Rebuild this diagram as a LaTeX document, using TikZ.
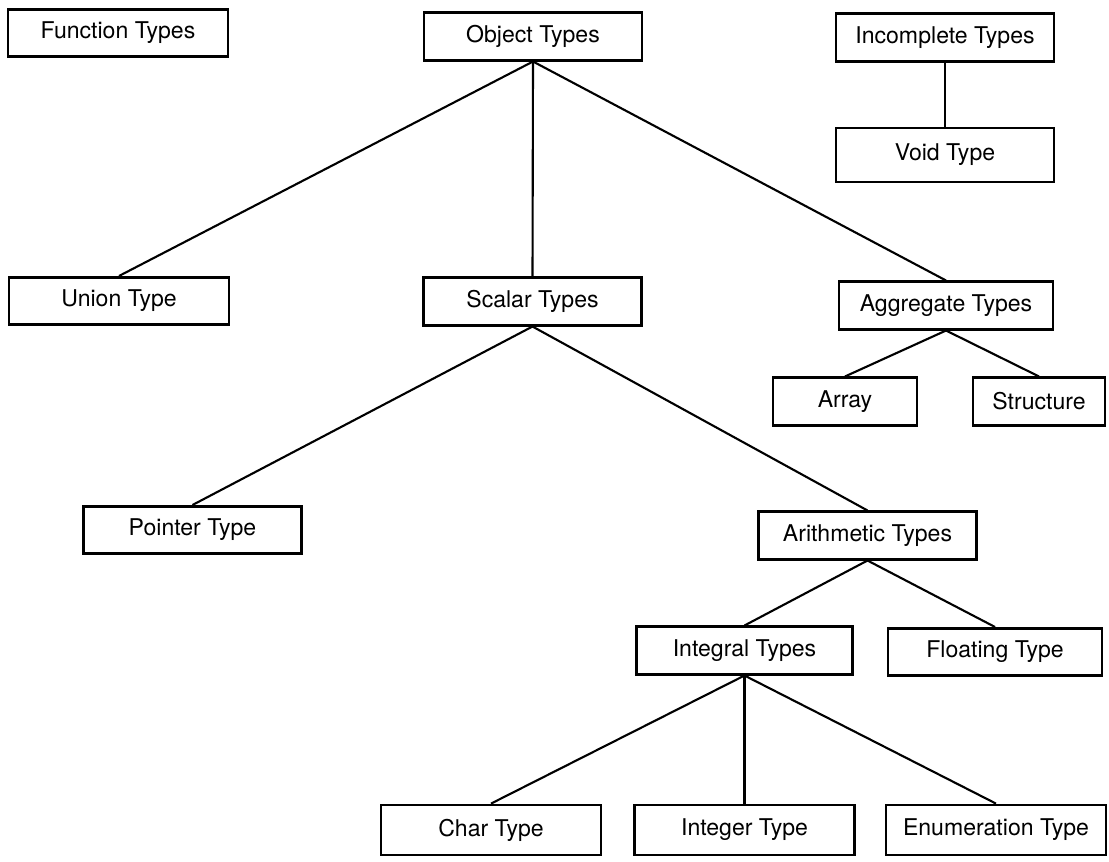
\documentclass[tikz,border=0pt]{standalone}
\usepackage{fontspec}
\setmainfont{TeX Gyre Heros}
\usepackage{tikz}
\usetikzlibrary{positioning}

\tikzset{
    typebox/.style={rectangle, draw, line width=2pt, inner sep=0pt, minimum height=1.18cm, minimum width=5.45cm, font=\fontsize{16.4pt}{19pt}\selectfont},
    branch/.style={line width=1.5pt}
}

\begin{document}
\begin{tikzpicture}[x=0.025cm, y=-0.025cm]
                \useasboundingbox (0, 0) rectangle (1109, 861);

                \node[typebox, minimum width=5.5cm] (func) at (118, 33) {Function Types};
                \node[typebox] (obj) at (533, 36.5) {Object Types};
                \node[typebox] (incomp) at (945, 37.5) {Incomplete Types};
                \node[typebox, minimum height=1.35cm] (void) at (945, 155) {Void Type};

                \node[typebox, minimum width=5.5cm] (union) at (119, 301) {Union Type};
                \node[typebox] (scalar) at (532.5, 301.5) {Scalar Types};
                \node[typebox, minimum width=5.35cm] (aggr) at (946, 305.5) {Aggregate Types};
                \node[typebox, minimum width=3.6cm] (array) at (845, 401.5) {Array};
                \node[typebox, minimum width=3.3cm] (struct) at (1039, 401.5) {Structure};

                \node[typebox] (pointer) at (192.5, 530) {Pointer Type};
                \node[typebox] (arith) at (867.5, 535.5) {Arithmetic Types};
                \node[typebox, minimum width=5.38cm] (integral) at (744.5, 650.5) {Integral Types};
                \node[typebox, minimum width=5.35cm] (floating) at (995, 652) {Floating Type};

                \node[typebox, minimum width=5.5cm, minimum height=1.25cm] (char) at (491, 830) {Char Type};
                \node[typebox, minimum width=5.5cm, minimum height=1.25cm] (integer) at (744.5, 830) {Integer Type};
                \node[typebox, minimum width=5.5cm, minimum height=1.25cm] (enum) at (996, 830) {Enumeration Type};

                \draw[branch] (obj.south) -- (union.north);
                \draw[branch] (obj.south) -- (scalar.north);
                \draw[branch] (obj.south) -- (aggr.north);
                \draw[branch] (incomp.south) -- (void.north);
                \draw[branch] (aggr.south) -- (array.north);
                \draw[branch] (aggr.south) -- (struct.north);
                \draw[branch] (scalar.south) -- (pointer.north);
                \draw[branch] (scalar.south) -- (arith.north);
                \draw[branch] (arith.south) -- (integral.north);
                \draw[branch] (arith.south) -- (floating.north);
                \draw[branch] (integral.south) -- (char.north);
                \draw[branch] (integral.south) -- (integer.north);
                \draw[branch] (integral.south) -- (enum.north);
            \end{tikzpicture}
\end{document}
